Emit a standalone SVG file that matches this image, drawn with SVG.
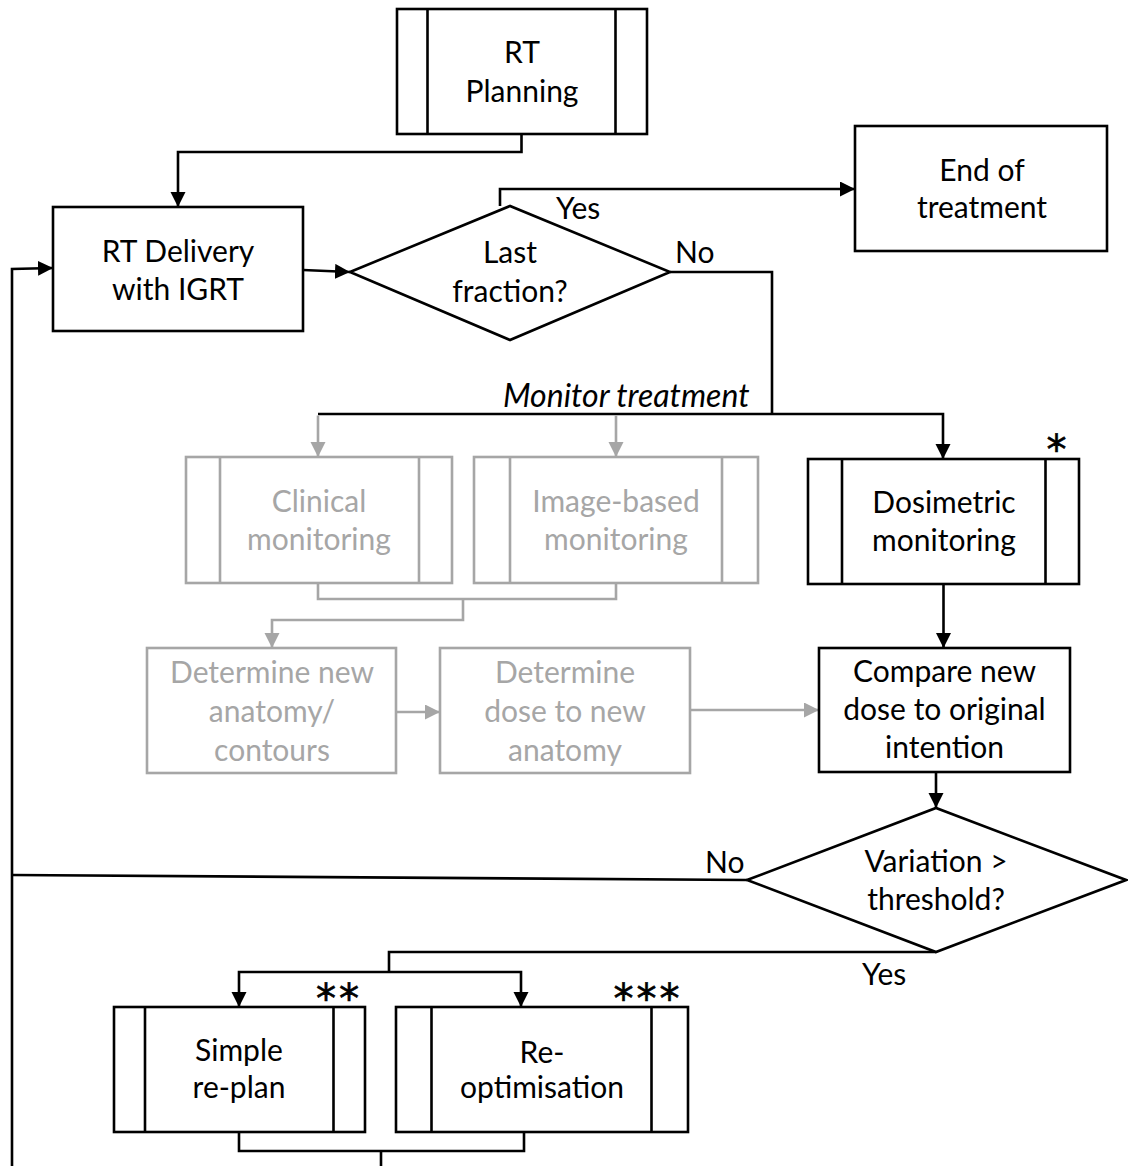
<svg xmlns="http://www.w3.org/2000/svg" width="1128" height="1166" viewBox="0 0 1128 1166">
<style>
text{font-family:Lato,"Open Sans","Liberation Sans",sans-serif;font-size:30px;text-anchor:middle;fill:#000}
.b{fill:#fff;stroke:#000;stroke-width:2.6}
.g{fill:#fff;stroke:#a6a6a6;stroke-width:2.6}
.gt{fill:#a6a6a6}
.c{fill:none;stroke:#000;stroke-width:2.6}
.cg{fill:none;stroke:#a6a6a6;stroke-width:2.6}
.l{text-anchor:start}
.it{font-style:italic;font-size:32px}
.ast{font-family:"DejaVu Sans",sans-serif;font-size:40px;letter-spacing:3px;stroke:#000;stroke-width:0.6}
</style>
<defs>
<marker id="ah" markerUnits="userSpaceOnUse" markerWidth="16" markerHeight="16" refX="15" refY="7.5" orient="auto"><path d="M0,0 L15,7.5 L0,15 z" fill="#000"/></marker>
<marker id="ahg" markerUnits="userSpaceOnUse" markerWidth="16" markerHeight="16" refX="15" refY="7.5" orient="auto"><path d="M0,0 L15,7.5 L0,15 z" fill="#a6a6a6"/></marker>
</defs>
<g id="connectors">
<path class="c" d="M521.5,134 V152 H178 V207" marker-end="url(#ah)"/>
<path class="c" d="M303,270 L350,272" marker-end="url(#ah)"/>
<path class="c" d="M500,206 V189 H855" marker-end="url(#ah)"/>
<path class="c" d="M670,272 H772 V414"/>
<path class="c" d="M318,414 H943 V459" marker-end="url(#ah)"/>
<path class="cg" d="M318,415.5 V457" marker-end="url(#ahg)"/>
<path class="cg" d="M616,415.5 V457" marker-end="url(#ahg)"/>
<path class="cg" d="M318,583 V599 H616 V583"/>
<path class="cg" d="M463,599 V620 H272 V648" marker-end="url(#ahg)"/>
<path class="cg" d="M396,712 H440" marker-end="url(#ahg)"/>
<path class="cg" d="M690,710 H819" marker-end="url(#ahg)"/>
<path class="c" d="M943.5,584 V648" marker-end="url(#ah)"/>
<path class="c" d="M936,772 V808" marker-end="url(#ah)"/>
<path class="c" d="M747,880 L12,875"/>
<path class="c" d="M12,1166 V269 L53,268" marker-end="url(#ah)"/>
<path class="c" d="M936,952 H389 V972"/>
<path class="c" d="M389,972 H239 V1007" marker-end="url(#ah)"/>
<path class="c" d="M389,972 H521 V1007" marker-end="url(#ah)"/>
<path class="c" d="M239,1132 V1151 H524 V1132"/>
<path class="c" d="M381,1151 V1166"/>
</g>
<g id="rt-planning">
<rect class="b" x="397" y="9" width="250" height="125"/>
<path class="c" d="M427.5,9 V134 M615.5,9 V134"/>
<text x="522" y="63">RT</text>
<text x="522" y="101.5">Planning</text>
</g>
<g id="rt-delivery">
<rect class="b" x="53" y="207" width="250" height="124"/>
<text x="178" y="262">RT Delivery</text>
<text x="178" y="299.5">with IGRT</text>
</g>
<g id="last-fraction">
<polygon class="b" points="350,272 510,206 670,272 510,340"/>
<text x="510" y="263">Last</text>
<text x="510" y="301.5">fraction?</text>
</g>
<g id="end-of-treatment">
<rect class="b" x="855" y="126" width="252" height="125"/>
<text x="982" y="181">End of</text>
<text x="982" y="218">treatment</text>
</g>
<g id="labels-top">
<text class="l" x="556" y="219">Yes</text>
<text class="l" x="675" y="263">No</text>
<text class="l it" x="503" y="407">Monitor treatment</text>
</g>
<g id="clinical-monitoring">
<rect class="g" x="186" y="457" width="266" height="126"/>
<path class="cg" d="M220,457 V583 M419,457 V583"/>
<text class="gt" x="319" y="511.5">Clinical</text>
<text class="gt" x="319" y="550">monitoring</text>
</g>
<g id="image-based-monitoring">
<rect class="g" x="474" y="457" width="284" height="126"/>
<path class="cg" d="M510,457 V583 M722,457 V583"/>
<text class="gt" x="616" y="511.5">Image-based</text>
<text class="gt" x="616" y="550">monitoring</text>
</g>
<g id="dosimetric-monitoring">
<rect class="b" x="808" y="459" width="271" height="125"/>
<path class="c" d="M842,459 V584 M1045.5,459 V584"/>
<text x="944" y="512.5">Dosimetric</text>
<text x="944" y="551">monitoring</text>
<text class="ast" x="1058" y="464">*</text>
</g>
<g id="determine-anatomy">
<rect class="g" x="147" y="648" width="249" height="125"/>
<text class="gt" x="272" y="682.5">Determine new</text>
<text class="gt" x="272" y="721.5">anatomy/</text>
<text class="gt" x="272" y="760.5">contours</text>
</g>
<g id="determine-dose">
<rect class="g" x="440" y="648" width="250" height="125"/>
<text class="gt" x="565" y="682.5">Determine</text>
<text class="gt" x="565" y="721.5">dose to new</text>
<text class="gt" x="565" y="760.5">anatomy</text>
</g>
<g id="compare">
<rect class="b" x="819" y="648" width="251" height="124"/>
<text x="944.5" y="681.5">Compare new</text>
<text x="944.5" y="720">dose to original</text>
<text x="944.5" y="758">intention</text>
</g>
<g id="variation">
<polygon class="b" points="747,880 936,808 1126,880 936,952"/>
<text x="936" y="871.5">Variation &gt;</text>
<text x="936" y="910">threshold?</text>
</g>
<g id="labels-bottom">
<text class="l" x="705" y="873">No</text>
<text class="l" x="862" y="985">Yes</text>
</g>
<g id="simple-replan">
<rect class="b" x="114" y="1007" width="251" height="125"/>
<path class="c" d="M145,1007 V1132 M333.5,1007 V1132"/>
<text x="239" y="1060.5">Simple</text>
<text x="239" y="1098">re-plan</text>
<text class="ast" x="339" y="1013">**</text>
</g>
<g id="re-optimisation">
<rect class="b" x="396" y="1007" width="292" height="125"/>
<path class="c" d="M431.5,1007 V1132 M651.5,1007 V1132"/>
<text x="542" y="1063">Re-</text>
<text x="542" y="1098">optimisation</text>
<text class="ast" x="648" y="1013">***</text>
</g>
</svg>
